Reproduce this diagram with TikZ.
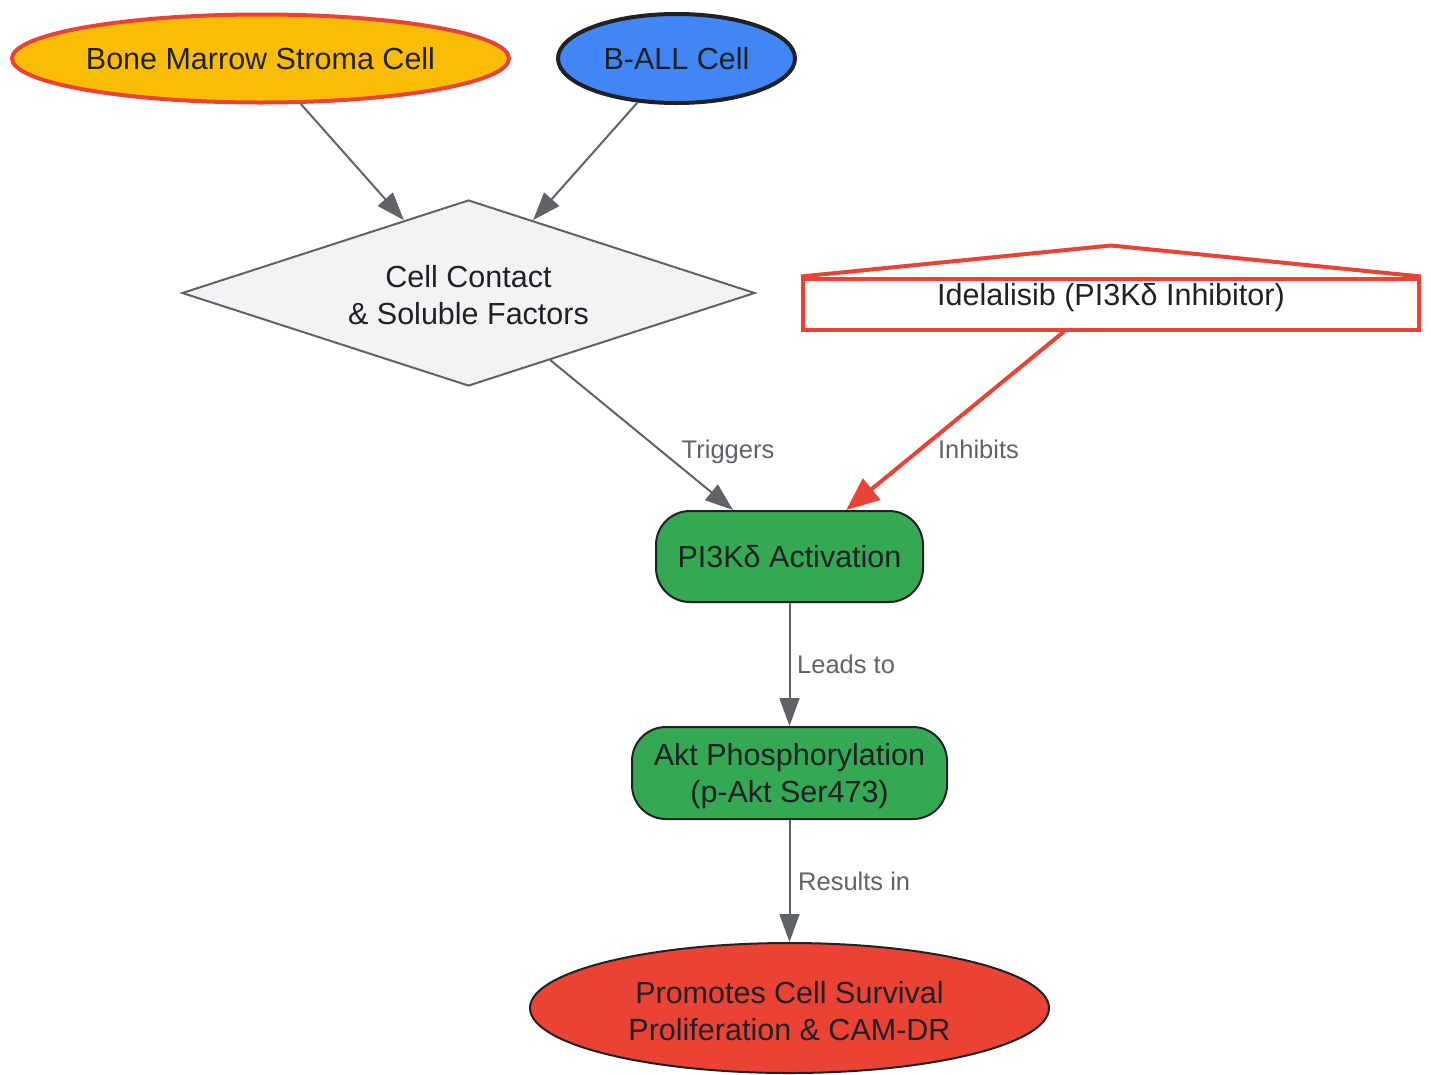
\documentclass[tikz,border=0pt]{standalone}
\usepackage{fontspec}
\setmainfont{Liberation Sans}
\usetikzlibrary{shapes.geometric,arrows.meta,calc}
\definecolor{amber}{HTML}{FBBC04}
\definecolor{gred}{HTML}{EA4335}
\definecolor{gblue}{HTML}{4285F4}
\definecolor{ggreen}{HTML}{34A853}
\definecolor{ink}{HTML}{202124}
\definecolor{lgray}{HTML}{5F6368}
\definecolor{pale}{HTML}{F1F3F4}
\begin{document}
\begin{tikzpicture}[x=1pt,y=-1pt,
  every node/.style={text=ink, font=\fontsize{30.5}{37}\selectfont, align=center, inner sep=0pt},
  ell/.style={ellipse, draw},
  stepbox/.style={rounded corners=34pt, draw=ink, line width=2pt, fill=ggreen},
  lbl/.style={text=lgray, font=\fontsize{25.5}{30}\selectfont, anchor=base},
  conn/.style={draw=lgray, line width=2pt, -{Triangle[length=28pt,width=20pt]}},
  inh/.style={draw=gred, line width=4pt, -{Triangle[length=33pt,width=27pt]}}
]
\useasboundingbox (0,0) rectangle (1431,1074);

\node[ell, fill=amber, draw=gred, line width=4pt, minimum width=497pt, minimum height=88pt] (bm) at (260.5,58.5) {Bone Marrow Stroma Cell};
\node[ell, fill=gblue, draw=ink, line width=4pt, minimum width=237pt, minimum height=89pt] (ball) at (676.5,58.5) {B-ALL Cell};
\node[diamond, fill=pale, draw=lgray, line width=2pt, aspect=3.08, minimum width=573pt, minimum height=186pt,
  label={[yshift=-2.5pt]center:{Cell Contact\\\& Soluble Factors}}] (dia) at (468.5,293) {};
\node[rectangle, fill=white, draw=gred, line width=4pt, minimum width=616pt, minimum height=51pt, text height=22pt, text depth=18.6pt] (ide) at (1111,304) {Idelalisib (PI3Kδ Inhibitor)};
\draw[gred, line width=4pt, line join=miter] (ide.north west) -- ([yshift=31pt]ide.north) -- (ide.north east);
\node[stepbox, minimum width=267pt, minimum height=91pt] (pi3k) at (789.5,556.5) {PI3Kδ Activation};
\node[stepbox, minimum width=315pt, minimum height=92pt,
  label={[yshift=-3.5pt]center:{Akt Phosphorylation\\(p-Akt Ser473)}}] (akt) at (789.5,773) {};
\node[ell, fill=gred, draw=ink, line width=2pt, minimum width=519pt, minimum height=130pt,
  label={[yshift=-3pt]center:{Promotes Cell Survival\\Proliferation \& CAM-DR}}] (out) at (789.5,1008) {};

\draw[conn] (bm) -- (dia);
\draw[conn] (ball) -- (dia);
\draw[conn] (dia) -- (pi3k);
\draw[inh] ($(ide.south)+(-47,0)$) -- (pi3k);
\draw[conn] (pi3k) -- (akt);
\draw[conn] (akt) -- (out);

\node[lbl] (l1) at (728,458) {Triggers};
\node[lbl] (l2) at (978.5,458) {Inhibits};
\node[lbl, anchor=base west] (l3) at (797,673) {Leads to};
\node[lbl, anchor=base west] (l4) at (798,890) {Results in};
\end{tikzpicture}
\end{document}
